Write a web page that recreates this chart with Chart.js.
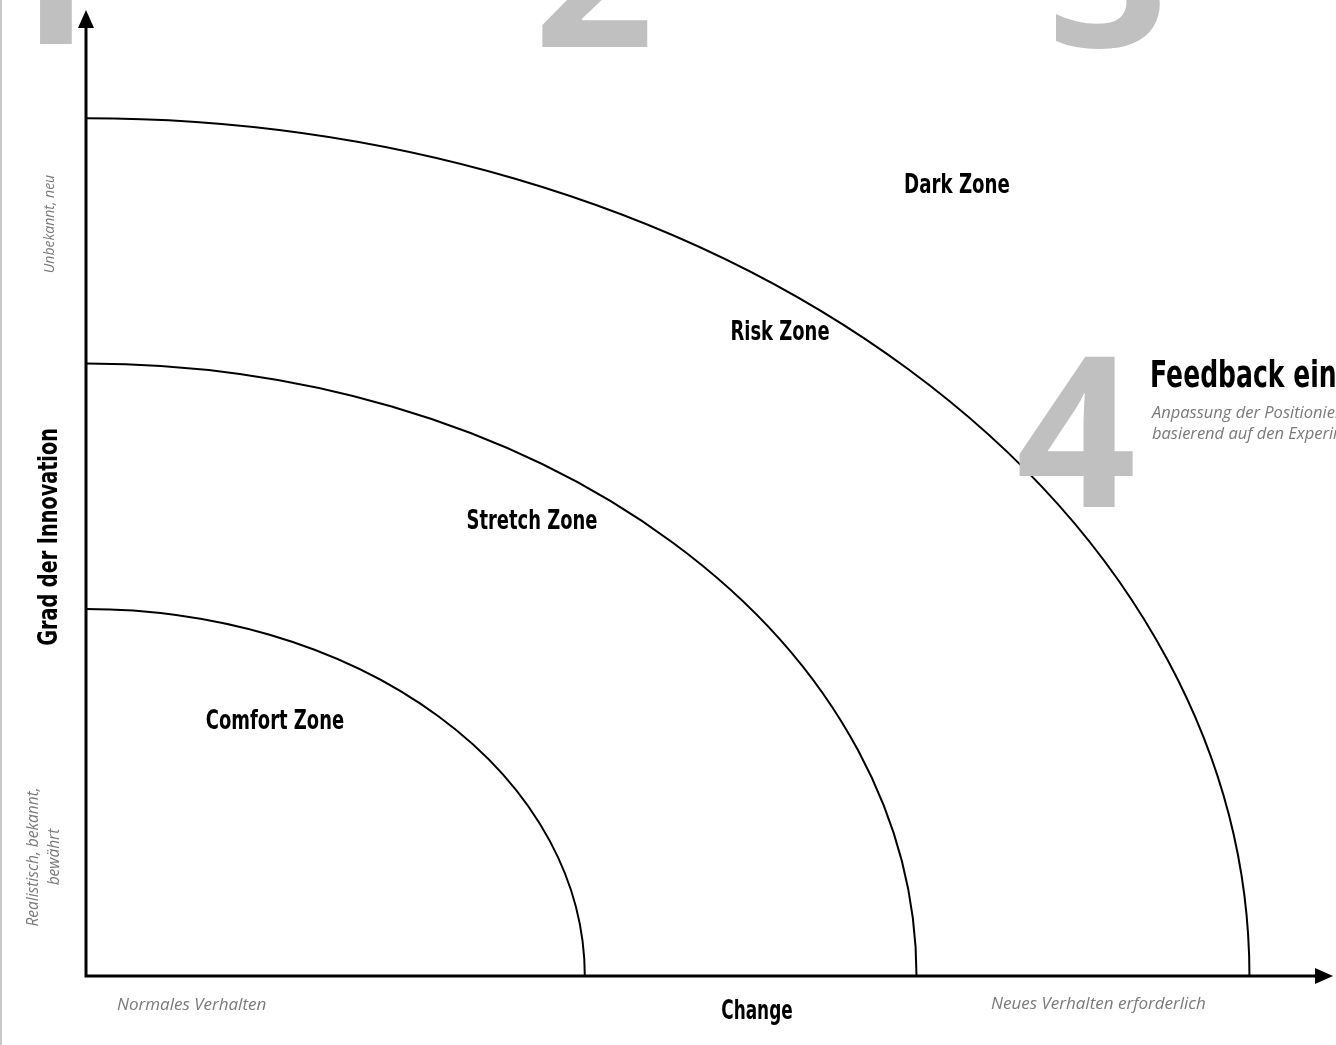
<!DOCTYPE html>
<html>
<head>
<meta charset="utf-8">
<title>Zonen</title>
<script src="https://cdn.jsdelivr.net/npm/chart.js@4.4.1/dist/chart.umd.min.js"></script>
<style>
  html, body { margin: 0; padding: 0; background: #fff; overflow: hidden; }
  canvas { display: block; }
</style>
</head>
<body>
<canvas id="zoneChart" width="1336" height="1045"></canvas>
<script>
// zones: radius along "Change" (x) and "Innovation" (y), in percent of the axis
const zoneNames = ['Comfort Zone', 'Stretch Zone', 'Risk Zone'];
const zoneChange = [40, 66.6, 93.3];
const zoneInnovation = [38, 63.4, 88.8];
const outerZone = 'Dark Zone';
const stepNumbers = ['1', '2', '3', '4'];
const xAxisTitle = 'Change';
const yAxisTitle = 'Grad der Innovation';
const xTickLabels = ['Normales Verhalten', 'Neues Verhalten erforderlich'];
const yTickLabels = [['Realistisch, bekannt,', 'bewährt'], ['Unbekannt, neu']];
const feedbackTitle = 'Feedback einholen';
const feedbackText = ['Anpassung der Positionierung', 'basierend auf den Experimenten'];

const HAND = 'bold 26px "DejaVu Sans", sans-serif';
const BIG = '700 210px "Open Sans", sans-serif';

// squeezed text, to come close to the narrow hand-drawn font
function narrow(ctx, text, x, y, sx, rot) {
  ctx.save();
  ctx.translate(x, y);
  if (rot) ctx.rotate(rot);
  ctx.scale(sx, 1);
  ctx.fillText(text, 0, 0);
  ctx.restore();
}

const zonePlugin = {
  id: 'zones',
  beforeDraw(chart) {
    const ctx = chart.ctx;
    ctx.save();
    ctx.fillStyle = '#fff';
    ctx.fillRect(0, 0, chart.width, chart.height);
    // left page border
    ctx.fillStyle = '#c8c8c8';
    ctx.fillRect(0, 0, 2, chart.height);
    ctx.restore();
  },
  afterDraw(chart) {
    const ctx = chart.ctx;
    const x = chart.scales.x, y = chart.scales.y;
    const ox = x.getPixelForValue(0), oy = y.getPixelForValue(0);
    const top = y.getPixelForValue(100), right = x.getPixelForValue(100);
    ctx.save();

    // big step numbers (behind the arcs except "4")
    ctx.fillStyle = '#c0c0c0';
    ctx.font = BIG;
    ctx.textAlign = 'left';
    ctx.textBaseline = 'alphabetic';
    ctx.fillText(stepNumbers[0], -15, 44);
    ctx.fillText(stepNumbers[1], 534, 47);
    ctx.fillText(stepNumbers[2], 1048, 47);

    // arcs
    ctx.strokeStyle = '#000';
    ctx.lineWidth = 2;
    zoneChange.forEach((cx, i) => {
      const rx = x.getPixelForValue(cx) - ox;
      const ry = oy - y.getPixelForValue(zoneInnovation[i]);
      ctx.beginPath();
      ctx.ellipse(ox, oy, rx, ry, 0, -Math.PI / 2, 0);
      ctx.stroke();
    });

    // axes with arrows
    ctx.lineWidth = 3;
    ctx.beginPath();
    ctx.moveTo(ox, oy + 1.5);
    ctx.lineTo(ox, top + 14);
    ctx.moveTo(ox - 1.5, oy);
    ctx.lineTo(right - 14, oy);
    ctx.stroke();
    ctx.fillStyle = '#000';
    ctx.beginPath();
    ctx.moveTo(ox, top);
    ctx.lineTo(ox - 8, top + 18);
    ctx.lineTo(ox + 8, top + 18);
    ctx.closePath();
    ctx.fill();
    ctx.beginPath();
    ctx.moveTo(right, oy);
    ctx.lineTo(right - 18, oy - 8);
    ctx.lineTo(right - 18, oy + 8);
    ctx.closePath();
    ctx.fill();

    // step 4 sits on top of the outer arc
    ctx.fillStyle = '#c0c0c0';
    ctx.font = BIG;
    ctx.fillText(stepNumbers[3], 1016, 507);

    // zone labels
    ctx.fillStyle = '#000';
    ctx.font = HAND;
    ctx.textAlign = 'center';
    ctx.textBaseline = 'middle';
    const labelPos = [[275, 722], [532, 522], [780, 333]];
    zoneNames.forEach((n, i) => narrow(ctx, n, labelPos[i][0], labelPos[i][1], 0.69));
    narrow(ctx, outerZone, 957, 186, 0.70);
    narrow(ctx, xAxisTitle, 757, 1012, 0.65);
    narrow(ctx, yAxisTitle, 50, 537, 0.74, -Math.PI / 2);

    // feedback block
    ctx.textAlign = 'left';
    ctx.textBaseline = 'alphabetic';
    ctx.font = 'bold 38px "DejaVu Sans", sans-serif';
    narrow(ctx, feedbackTitle, 1150, 387, 0.66);
    ctx.fillStyle = '#7a7a7a';
    ctx.font = 'italic 16.5px "Open Sans", sans-serif';
    ctx.textBaseline = 'middle';
    ctx.fillText(feedbackText[0], 1152, 413);
    ctx.fillText(feedbackText[1], 1152, 434);

    // axis notes
    ctx.font = 'italic 17px "Open Sans", sans-serif';
    ctx.fillText(xTickLabels[0], 117, 1005);
    ctx.fillText(xTickLabels[1], 991, 1004);
    ctx.textAlign = 'center';
    ctx.font = 'italic 15.5px "Open Sans", sans-serif';
    ctx.save();
    ctx.translate(34, 857);
    ctx.rotate(-Math.PI / 2);
    ctx.fillText(yTickLabels[0][0], 0, 0);
    ctx.fillText(yTickLabels[0][1], 0, 21);
    ctx.restore();
    ctx.font = 'italic 14px "Open Sans", sans-serif';
    ctx.save();
    ctx.translate(50, 224);
    ctx.rotate(-Math.PI / 2);
    ctx.fillText(yTickLabels[1][0], 0, 0);
    ctx.restore();

    ctx.restore();
  }
};

new Chart(document.getElementById('zoneChart'), {
  type: 'scatter',
  data: {
    datasets: zoneNames.map((n, i) => ({
      label: n,
      data: [{ x: zoneChange[i], y: 0 }, { x: 0, y: zoneInnovation[i] }],
      pointRadius: 0,
      showLine: false
    }))
  },
  options: {
    responsive: false,
    animation: false,
    layout: { padding: { left: 86, right: 3, top: 10, bottom: 69 } },
    plugins: { legend: { display: false }, tooltip: { enabled: false } },
    scales: {
      x: { type: 'linear', min: 0, max: 100, display: false },
      y: { type: 'linear', min: 0, max: 100, display: false }
    }
  },
  plugins: [zonePlugin]
});
</script>
</body>
</html>
